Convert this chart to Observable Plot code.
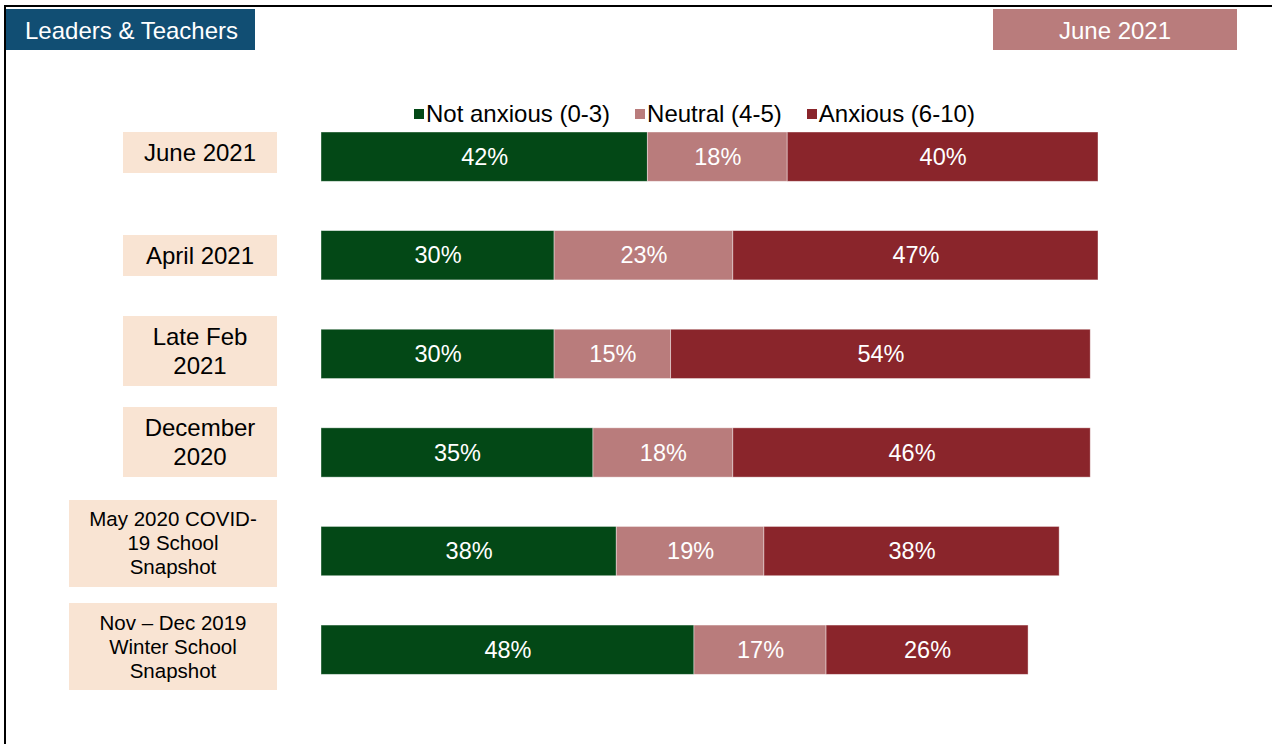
<!DOCTYPE html>
<html>
<head>
<meta charset="utf-8">
<script src="https://cdn.jsdelivr.net/npm/d3@7"></script>
<script src="https://cdn.jsdelivr.net/npm/@observablehq/plot@0.6"></script>
<style>
  html, body { margin: 0; padding: 0; background: #fff; }
  body { font-family: "Liberation Sans", Arial, sans-serif; }
  #page { position: relative; width: 1272px; height: 744px; overflow: hidden; background: #fff; }
  .abs { position: absolute; }
  .hdr { color: #fff; font-size: 24px; height: 41px; line-height: 44px; box-sizing: border-box; }
  #legend { display: flex; align-items: center; font-size: 24px; line-height: 24px; color: #000; white-space: nowrap; }
  #legend .item { display: flex; align-items: center; margin-right: 25px; }
  #legend .sw { width: 10px; height: 10px; margin-right: 2px; }
  .lab { background: #f9e4d3; color: #000; text-align: center; white-space: pre-line;
         display: flex; align-items: center; justify-content: center; box-sizing: border-box; }
  #chart svg { display: block; }
</style>
</head>
<body>
<div id="page">
  <div class="abs" style="left:4px;top:5px;width:1268px;height:2px;background:#000"></div>
  <div class="abs" style="left:4px;top:5px;width:2px;height:739px;background:#000"></div>
  <div id="hdrLeft" class="abs hdr" style="left:6px;top:9px;width:249px;padding-left:19px;background:#114e73"></div>
  <div id="hdrRight" class="abs hdr" style="left:993px;top:9px;width:244px;text-align:center;background:#b97c7c"></div>
  <div id="legend" class="abs" style="left:414px;top:102px"></div>
  <div id="chart" class="abs" style="left:0;top:100px"></div>
</div>
<script>
// ---- data ----
const categories = [
  "June 2021",
  "April 2021",
  "Late Feb\n2021",
  "December\n2020",
  "May 2020 COVID-\n19 School\nSnapshot",
  "Nov – Dec 2019\nWinter School\nSnapshot"
];
const series = ["Not anxious (0-3)", "Neutral (4-5)", "Anxious (6-10)"];
const notAnxious = [42, 30, 30, 35, 38, 48];
const neutral    = [18, 23, 15, 18, 19, 17];
const anxious    = [40, 47, 54, 46, 38, 26];
const colors = ["#034816", "#b97c7c", "#8a252b"];
const headerLeft = "Leaders & Teachers";
const headerRight = "June 2021";

// ---- layout (label box vertical shift relative to its bar centre, px) ----
const labelShift = [-4, 0.5, -2.5, -10.5, -8, -3];

// ---- build table ----
const seriesValues = [notAnxious, neutral, anxious];
const rows = [];
categories.forEach((c, i) => {
  series.forEach((s, j) => rows.push({cat: c, series: s, value: seriesValues[j][i]}));
});

document.getElementById("hdrLeft").textContent = headerLeft;
document.getElementById("hdrRight").textContent = headerRight;

const legend = document.getElementById("legend");
series.forEach((s, j) => {
  const it = document.createElement("div");
  it.className = "item";
  it.innerHTML = `<span class="sw" style="background:${colors[j]}"></span><span></span>`;
  it.lastChild.textContent = s;
  legend.appendChild(it);
});

const W = 1272, H = 644;
const plot = Plot.plot({
  width: W,
  height: H,
  marginLeft: 321,
  marginRight: 174,
  marginTop: 7.35,
  marginBottom: 45,
  style: {fontFamily: "'Liberation Sans', Arial, sans-serif", background: "transparent"},
  x: {domain: [0, 100], axis: null},
  y: {domain: categories, axis: null, paddingInner: 0.5, paddingOuter: 0.25, round: false},
  color: {domain: series, range: colors},
  marks: [
    Plot.barX(rows, Plot.stackX({
      x: "value", y: "cat", z: "series", fill: "series",
      stroke: "#ffffff", strokeWidth: 0.8, strokeOpacity: 0.5
    })),
    Plot.textX(rows, Plot.stackX({
      x: "value", y: "cat", z: "series",
      text: d => d.value + "%",
      fill: "white", fontSize: 23.5
    }))
  ]
});
document.getElementById("chart").appendChild(plot);

// category label boxes positioned with the plot's y scale
const yScale = plot.scale("y");
const page = document.getElementById("page");
categories.forEach((c, i) => {
  const lines = c.split("\n").length;
  const h = lines === 1 ? 41 : lines === 2 ? 70 : 87;
  const w = lines === 3 ? 208 : 154;
  const center = 100 + yScale.apply(c) + yScale.bandwidth / 2 + labelShift[i];
  const d = document.createElement("div");
  d.className = "abs lab";
  d.style.left = (277 - w) + "px";
  d.style.width = w + "px";
  d.style.height = h + "px";
  d.style.top = (center - h / 2) + "px";
  d.style.fontSize = lines === 3 ? "20.5px" : "24px";
  d.style.lineHeight = lines === 3 ? "24px" : "29px";
  d.textContent = c;
  page.appendChild(d);
});
</script>
</body>
</html>
